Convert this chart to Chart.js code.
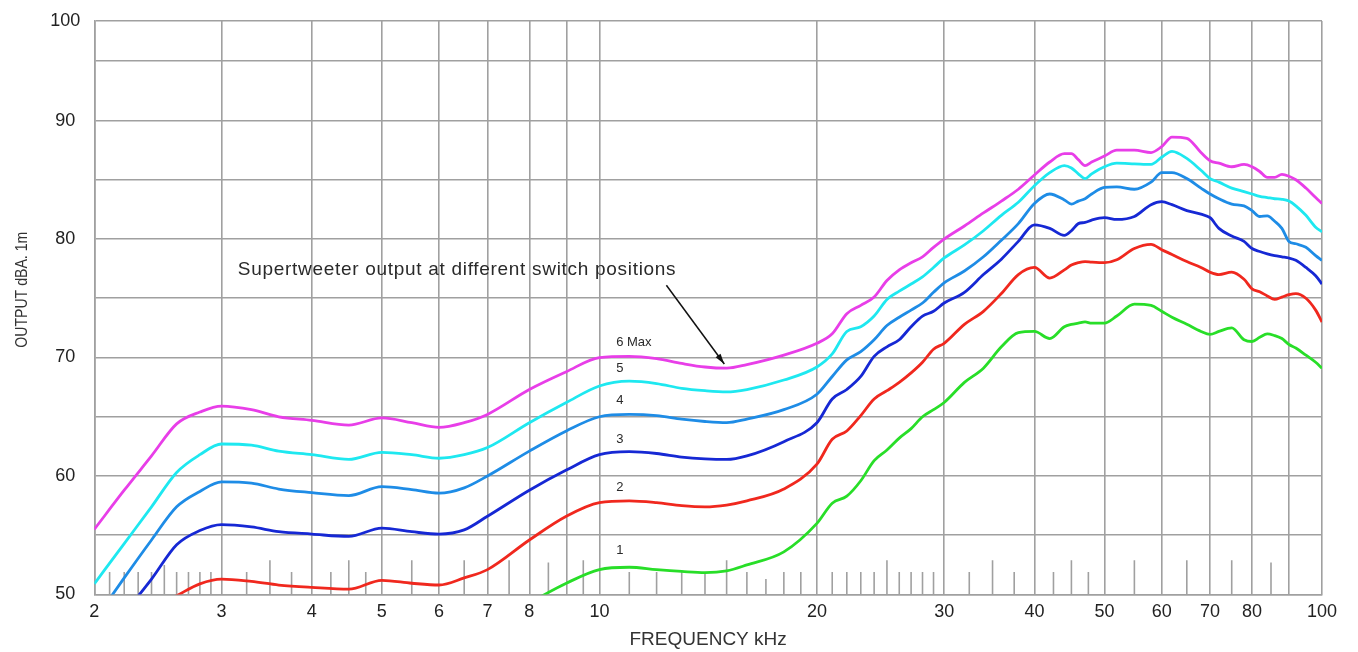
<!DOCTYPE html>
<html>
<head>
<meta charset="utf-8">
<title>Supertweeter output</title>
<script src="https://cdn.jsdelivr.net/npm/chart.js@4.4.1/dist/chart.umd.min.js"></script>
<style>
  html, body { margin: 0; padding: 0; background: #fff; }
</style>
</head>
<body>
<canvas id="myChart-Output" width="1358" height="652"></canvas>
<script>
// frequency grid (kHz) the curves were read at
const freqs = [
  2, 2.2, 2.4, 2.6, 2.8, 3, 3.3, 3.6,
  4, 4.5, 5, 5.5, 6, 6.5,
  7, 8, 9, 10, 11, 12, 13, 14, 15, 16,
  18, 20, 21, 22, 23, 24, 25, 26, 27, 28, 29,
  30, 32, 34, 36, 38,
  40, 42, 44, 45, 46, 47, 48,
  50, 52, 55, 58,
  60, 62, 65, 68,
  70, 72, 75, 78,
  80, 82, 84, 86, 88,
  90, 92, 95, 98, 100
];

// output dBA, one array per switch position
const pos6 = [
  55.5, 58.8, 61.7, 64.4, 65.4, 65.9, 65.6, 65.0,
  64.7, 64.3, 64.9, 64.5, 64.1, 64.5,
  65.2, 67.3, 68.8, 70.0, 70.1, 69.9, 69.5, 69.2, 69.1, 69.4,
  70.2, 71.2, 72.0, 73.7, 74.4, 75.1, 76.5, 77.4, 78.0, 78.5, 79.3,
  80.0, 81.1, 82.2, 83.2, 84.2,
  85.4, 86.5, 87.2, 87.2, 86.7, 86.2, 86.5,
  87.0, 87.5, 87.5, 87.3,
  87.8, 88.6, 88.5, 87.3,
  86.6, 86.4, 86.1, 86.3,
  86.1, 85.7, 85.2, 85.2, 85.45,
  85.3, 85.0, 84.3, 83.5, 83.0
];
const pos5 = [
  50.9, 54.3, 57.4, 60.3, 61.8, 62.7, 62.6, 62.1,
  61.8, 61.4, 62.0, 61.8, 61.5, 61.8,
  62.4, 64.5, 66.2, 67.6, 68.0, 67.8, 67.4, 67.2, 67.1, 67.3,
  68.1, 69.2, 70.3, 72.2, 72.6, 73.5, 74.9, 75.6, 76.2, 76.8, 77.6,
  78.4, 79.5, 80.7, 82.0, 83.1,
  84.5, 85.6, 86.2, 86.0, 85.5, 85.1, 85.5,
  86.1, 86.4, 86.35, 86.3,
  86.9, 87.4, 86.8, 85.8,
  85.1, 84.8, 84.3, 84.0,
  83.8, 83.6, 83.5, 83.4, 83.35,
  83.2, 82.8, 82.0, 81.0, 80.6
];
const pos4 = [
  47.8, 51.4, 54.6, 57.4, 58.7, 59.5, 59.4, 58.9,
  58.6, 58.35, 59.1, 58.85, 58.55, 59.0,
  60.0, 62.1, 63.8, 65.0, 65.2, 65.1, 64.8, 64.6, 64.5, 64.8,
  65.6, 66.9, 68.4, 69.8, 70.5, 71.5, 72.7, 73.4, 74.0, 74.6, 75.5,
  76.3, 77.3, 78.5, 79.9, 81.3,
  83.0, 83.8, 83.3, 82.95, 83.2, 83.4, 83.8,
  84.35, 84.4, 84.2, 84.8,
  85.6, 85.6, 85.1, 84.3,
  83.8, 83.4, 82.95, 82.8,
  82.4, 81.9, 81.95, 81.5, 80.9,
  79.8, 79.6, 79.3, 78.6, 78.2
];
const pos3 = [
  45.2, 48.4, 51.3, 54.2, 55.4, 55.9, 55.7, 55.3,
  55.1, 54.9, 55.6, 55.3, 55.1, 55.45,
  56.6, 58.8, 60.5, 61.8, 62.05, 61.9, 61.6, 61.45, 61.4, 61.7,
  62.9, 64.5, 66.5, 67.3, 68.4, 70.1, 70.9, 71.5, 72.6, 73.5, 73.9,
  74.6, 75.5, 77.0, 78.3, 79.8,
  81.2, 80.9, 80.3, 80.7, 81.3, 81.4, 81.6,
  81.8, 81.65, 81.9, 82.9,
  83.15, 82.9, 82.4, 82.1,
  81.8, 80.9, 80.25, 79.8,
  79.2, 78.95, 78.75, 78.6, 78.5,
  78.4, 78.2, 77.6, 76.9, 76.2
];
const pos2 = [
  46.3, 47.6, 48.8, 49.9, 50.9, 51.3, 51.1, 50.8,
  50.6, 50.45, 51.2, 50.95, 50.8, 51.4,
  52.1, 54.6, 56.6, 57.75, 57.9, 57.75, 57.5, 57.4, 57.55, 57.9,
  58.9, 61.0, 63.1, 63.8, 65.1, 66.5, 67.2, 67.9, 68.7, 69.6, 70.7,
  71.2, 72.8, 73.9, 75.4, 77.0,
  77.6, 76.7, 77.4, 77.8, 78.0, 78.1, 78.05,
  78.0, 78.25, 79.2, 79.55,
  79.1, 78.7, 78.1, 77.6,
  77.2, 77.0, 77.2, 76.6,
  75.8, 75.55, 75.2, 74.9, 75.1,
  75.3, 75.4, 75.0, 74.0, 73.0
];
const pos1 = [
  null, null, null, null, null, null, null, null,
  null, null, null, null, null, null,
  null, 49.3, 50.95, 52.1, 52.3, 52.1, 51.95, 51.85, 52.0, 52.5,
  53.6, 56.0, 57.7, 58.3, 59.6, 61.3, 62.2, 63.2, 64.0, 65.0, 65.6,
  66.2, 67.9, 69.1, 70.9, 72.1,
  72.2, 71.6, 72.6, 72.8, 72.9, 73.0, 72.9,
  72.9, 73.5, 74.5, 74.4,
  73.9, 73.4, 72.8, 72.2,
  71.95, 72.2, 72.5, 71.5,
  71.35, 71.7, 72.0, 71.85, 71.6,
  71.1, 70.8, 70.2, 69.6, 69.1
];

// short reference marks along the bottom edge
const markFreqs = [
  2.1, 2.2, 2.3, 2.4, 2.5, 2.6, 2.7, 2.8, 2.9, 3.25, 3.5, 3.75, 4.25, 4.5, 4.75,
  5.5, 6.5, 7.5, 8.5, 9.5, 11, 12, 13, 14, 15, 16, 17, 18, 19,
  21, 22, 23, 24, 25, 26, 27, 28, 29, 32.5, 35, 37.5, 42.5, 45, 47.5, 55, 65, 75, 85
];
const markTops = [
  51.9, 51.9, 51.9, 51.9, 52.5, 51.9, 51.9, 51.9, 51.9, 51.9, 52.9, 51.9, 51.9, 52.9, 51.9,
  52.9, 52.9, 52.9, 52.7, 52.9, 51.9, 51.9, 51.9, 51.9, 52.9, 51.9, 51.3, 51.9, 51.9,
  51.9, 51.9, 51.9, 51.9, 52.9, 51.9, 51.9, 51.9, 51.9, 51.9, 52.9, 51.9, 51.9, 52.9, 51.9, 52.9, 52.9, 52.9, 52.7
];

const xTicks = [2, 3, 4, 5, 6, 7, 8, 9, 10, 20, 30, 40, 50, 60, 70, 80, 90, 100];
const xUnlabelled = [9, 90];
// the printed top line of the source grid sits short of a full 100 step
const yTop = 98.4;
const yTicks = [50, 55, 60, 65, 70, 75, 80, 85, 90, 95, yTop];

const curveNames = ['6 Max', '5', '4', '3', '2', '1'];
const curveNameLevels = [71.3, 69.1, 66.4, 63.05, 59.0, 53.7];
const curveNameFreq = 10.55;
const noteText = 'Supertweeter output at different switch positions';
const noteAt = [3.16, 77.4];
const arrowFrom = [12.38, 76.1];
const arrowTo = [14.89, 69.45];
const yTitle = 'OUTPUT dBA. 1m';

const gridGrey = 'rgb(160, 160, 160)';
const textFont = "'Liberation Sans', Arial, sans-serif";

function points(values) {
  return freqs.map((f, i) => ({ x: f, y: values[i] }));
}

const markPoints = [];
markFreqs.forEach((f, i) => {
  markPoints.push({ x: f, y: 50 }, { x: f, y: markTops[i] }, { x: f, y: null });
});

function curve(label, values, color) {
  return {
    label: label,
    data: points(values),
    borderColor: color,
    borderWidth: 2.8,
    pointRadius: 0,
    cubicInterpolationMode: 'monotone',
    spanGaps: false
  };
}

const notesPlugin = {
  id: 'notes',
  afterDatasetsDraw(chart) {
    const { ctx, chartArea, scales: { x, y } } = chart;
    ctx.save();
    ctx.fillStyle = '#2a2a2a';
    ctx.textBaseline = 'middle';
    ctx.textAlign = 'left';

    ctx.font = '13px ' + textFont;
    curveNames.forEach((name, i) => {
      ctx.fillText(name, x.getPixelForValue(curveNameFreq), y.getPixelForValue(curveNameLevels[i]));
    });

    ctx.font = '19px ' + textFont;
    ctx.letterSpacing = '0.7px';
    ctx.fillText(noteText, x.getPixelForValue(noteAt[0]), y.getPixelForValue(noteAt[1]));
    ctx.letterSpacing = '0px';

    const x0 = x.getPixelForValue(arrowFrom[0]);
    const y0 = y.getPixelForValue(arrowFrom[1]);
    const x1 = x.getPixelForValue(arrowTo[0]);
    const y1 = y.getPixelForValue(arrowTo[1]);
    ctx.strokeStyle = '#111';
    ctx.fillStyle = '#111';
    ctx.lineWidth = 1.5;
    ctx.beginPath();
    ctx.moveTo(x0, y0);
    ctx.lineTo(x1, y1);
    ctx.stroke();
    const a = Math.atan2(y1 - y0, x1 - x0);
    ctx.beginPath();
    ctx.moveTo(x1, y1);
    ctx.lineTo(x1 - 11 * Math.cos(a - 0.28), y1 - 11 * Math.sin(a - 0.28));
    ctx.lineTo(x1 - 11 * Math.cos(a + 0.28), y1 - 11 * Math.sin(a + 0.28));
    ctx.closePath();
    ctx.fill();

    // condensed vertical axis title, set a little above the plot's middle as in the print
    ctx.translate(22, (chartArea.top + chartArea.bottom) / 2 - 18);
    ctx.rotate(-Math.PI / 2);
    ctx.scale(0.83, 1);
    ctx.textAlign = 'center';
    ctx.fillStyle = '#333';
    ctx.font = '17px ' + textFont;
    ctx.fillText(yTitle, 0, 0);
    ctx.restore();
  }
};

Chart.defaults.font.family = textFont;

const outputChart = document.getElementById('myChart-Output');

new Chart(outputChart, {
  type: 'line',
  data: {
    datasets: [
      curve('1', pos1, 'rgb(40, 222, 40)'),
      curve('2', pos2, 'rgb(240, 40, 30)'),
      curve('3', pos3, 'rgb(22, 40, 212)'),
      curve('4', pos4, 'rgb(30, 140, 230)'),
      curve('5', pos5, 'rgb(30, 232, 240)'),
      curve('6 Max', pos6, 'rgb(232, 62, 232)'),
      {
        label: 'marks',
        data: markPoints,
        borderColor: gridGrey,
        borderWidth: 1.6,
        pointRadius: 0,
        tension: 0,
        spanGaps: false
      }
    ]
  },
  options: {
    responsive: false,
    animation: false,
    layout: {
      padding: { top: 21, right: 36, bottom: 0, left: 0 }
    },
    plugins: {
      legend: { display: false },
      tooltip: { enabled: false }
    },
    scales: {
      x: {
        type: 'logarithmic',
        min: 2,
        max: 100,
        afterBuildTicks: (scale) => {
          scale.ticks = xTicks.map(v => ({ value: v }));
        },
        afterFit: (scale) => {
          scale.height = 57.5;
        },
        ticks: {
          autoSkip: false,
          maxRotation: 0,
          padding: 7,
          color: '#222',
          font: { size: 18 },
          callback: (value) => xUnlabelled.includes(value) ? '' : String(value)
        },
        grid: { color: gridGrey, lineWidth: 1.6, drawTicks: false },
        border: { color: gridGrey, width: 1.6 },
        title: {
          display: true,
          text: 'FREQUENCY kHz',
          color: '#333',
          font: { size: 19 },
          padding: { top: 0, bottom: 1 }
        }
      },
      y: {
        type: 'linear',
        min: 50,
        max: yTop,
        afterBuildTicks: (scale) => {
          scale.ticks = yTicks.map(v => ({ value: v }));
        },
        afterFit: (scale) => {
          scale.width = 94.3;
          scale.paddingTop = 0;
          scale.paddingBottom = 0;
        },
        ticks: {
          padding: 14,
          crossAlign: 'center',
          color: '#222',
          font: { size: 18 },
          callback: (value) => value === yTop ? '100' : (value % 10 === 0 ? String(value) : '')
        },
        grid: { color: gridGrey, lineWidth: 1.6, drawTicks: false },
        border: { color: gridGrey, width: 1.6 }
      }
    }
  },
  plugins: [notesPlugin]
});
</script>
</body>
</html>
